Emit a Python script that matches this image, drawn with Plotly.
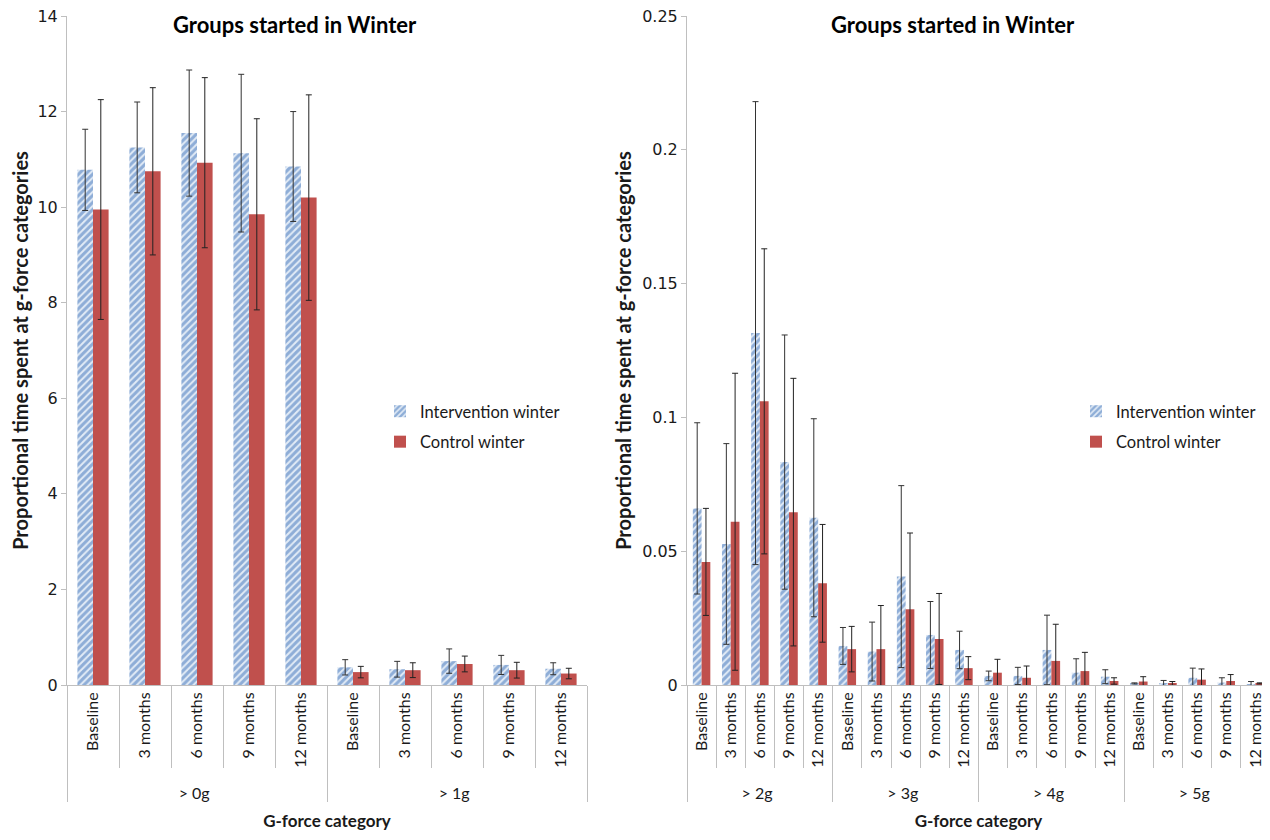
import plotly.graph_objects as go

periods = ["Baseline", "3 months", "6 months", "9 months", "12 months"]
groups_left = ["> 0g", "> 1g"]
groups_right = ["> 2g", "> 3g", "> 4g", "> 5g"]
series_names = ["Intervention winter", "Control winter"]
chart_title = "Groups started in Winter"
y_title = "Proportional time spent at g-force categories"
x_title = "G-force category"

int_left = [10.78, 11.25, 11.55, 11.13, 10.85, 0.37, 0.33, 0.50, 0.42, 0.34]
int_left_err = [0.85, 0.95, 1.32, 1.65, 1.15, 0.16, 0.165, 0.255, 0.20, 0.125]
ctl_left = [9.95, 10.75, 10.93, 9.85, 10.20, 0.27, 0.31, 0.44, 0.31, 0.24]
ctl_left_err = [2.30, 1.75, 1.78, 2.00, 2.15, 0.12, 0.155, 0.165, 0.165, 0.11]

int_right = [0.066, 0.0527, 0.1315, 0.0833, 0.0625,
             0.0146, 0.0125, 0.0405, 0.0187, 0.0131,
             0.0034, 0.0034, 0.0131, 0.0046, 0.0031,
             0.0006, 0.0007, 0.0027, 0.0009, 0.0001]
int_right_err = [0.032, 0.0375, 0.0865, 0.0475, 0.037,
                 0.0069, 0.011, 0.034, 0.0125, 0.007,
                 0.0018, 0.0032, 0.013, 0.0052, 0.0026,
                 0.0002, 0.001, 0.0036, 0.0018, 0.0012]
ctl_right = [0.046, 0.061, 0.106, 0.0646, 0.038,
             0.0134, 0.0134, 0.0283, 0.0172, 0.0063,
             0.0046, 0.0027, 0.009, 0.0052, 0.0015,
             0.0013, 0.0006, 0.0020, 0.0015, 0.0006]
ctl_right_err = [0.020, 0.0555, 0.057, 0.050, 0.022,
                 0.0085, 0.0163, 0.0285, 0.017, 0.0043,
                 0.005, 0.0044, 0.0137, 0.007, 0.0012,
                 0.0018, 0.0007, 0.004, 0.0024, 0.0002]

BLUE = "#3A70B8"
BLUE_BG = "#E2EBF6"
RED = "#C0504D"
TXT = "#1a1a1a"
GRID = "#BFBFBF"
TITLE_FONT = "Lato"
TICK_FONT = "DejaVu Sans"

# the page body adds an 8px offset; the figure is sized to the visible area
OFF = 8
W, H = 1270 - OFF, 840 - OFF


def px_x(sx):
    return (sx - OFF) / W


def px_y(sy):
    return 1 - (sy - OFF) / H


def mc(groups):
    return [[g for g in groups for _ in periods], [p for _ in groups for p in periods]]


xl = mc(groups_left)
xr = mc(groups_right)

fig = go.Figure()


def add_pair(x, vi, ei, vc, ec, xa, ya, legend):
    fig.add_trace(go.Bar(
        x=x, y=vi, name=series_names[0], xaxis=xa, yaxis=ya, legend=legend,
        legendgroup=legend + "a",
        marker=dict(color=BLUE_BG, line=dict(width=0),
                    pattern=dict(shape="/", fgcolor=BLUE, bgcolor=BLUE_BG,
                                 size=5, solidity=0.6, fillmode="overlay")),
        error_y=dict(type="data", array=ei, visible=True, color="#333333",
                     thickness=1, width=3),
    ))
    fig.add_trace(go.Bar(
        x=x, y=vc, name=series_names[1], xaxis=xa, yaxis=ya, legend=legend,
        legendgroup=legend + "b",
        marker=dict(color=RED, line=dict(width=0)),
        error_y=dict(type="data", array=ec, visible=True, color="#222222",
                     thickness=1, width=3),
    ))


add_pair(xl, int_left, int_left_err, ctl_left, ctl_left_err, "x", "y", "legend")
add_pair(xr, int_right, int_right_err, ctl_right, ctl_right_err, "x2", "y2", "legend2")

y0 = px_y(685)
y1 = px_y(16)

xaxis_common = dict(
    type="multicategory", showline=True, linecolor=GRID, linewidth=1,
    ticks="outside", tickson="boundaries", ticklen=82, tickcolor=GRID,
    showdividers=True, dividercolor=GRID, dividerwidth=1,
    tickangle=-90, tickfont=dict(family=TITLE_FONT, size=16, color=TXT),
    showgrid=False, zeroline=False, automargin=False,
    title=dict(text="<b>" + x_title + "</b>", font=dict(family=TITLE_FONT, size=17, color=TXT),
               standoff=14),
)
yaxis_common = dict(
    showline=True, linecolor=GRID, linewidth=1, ticks="outside", ticklen=5,
    tickcolor=GRID, showgrid=False, zeroline=False, automargin=False,
    ticklabeloverflow="allow",
    tickfont=dict(family=TICK_FONT, size=16, color=TXT),
    title=dict(text="<b>" + y_title + "</b>", font=dict(family=TITLE_FONT, size=20, color=TXT),
               standoff=5),
)

legend_common = dict(xanchor="left", yanchor="top",
                     font=dict(family=TITLE_FONT, size=16.5, color=TXT),
                     traceorder="grouped", tracegroupgap=6, bgcolor="rgba(0,0,0,0)")

fig.update_layout(
    width=W, height=H, margin=dict(l=0, r=0, t=0, b=0),
    paper_bgcolor="white", plot_bgcolor="white",
    barmode="group", bargap=0.4, bargroupgap=0,
    xaxis=dict(domain=[px_x(67), px_x(587)], anchor="y", **xaxis_common),
    yaxis=dict(domain=[y0, y1], anchor="x", range=[0, 14], dtick=2, **yaxis_common),
    xaxis2=dict(domain=[px_x(687), 1.0], anchor="y2", **xaxis_common),
    yaxis2=dict(domain=[y0, y1], anchor="x2", range=[0, 0.25], dtick=0.05, **yaxis_common),
    legend=dict(x=px_x(380), y=px_y(394), **legend_common),
    legend2=dict(x=px_x(1076), y=px_y(394), **legend_common),
    annotations=[
        dict(text="<b>" + chart_title + "</b>", x=px_x(295), y=px_y(25), xref="paper", yref="paper",
             xanchor="center", yanchor="middle",
             showarrow=False, font=dict(family=TITLE_FONT, size=22, color="black")),
        dict(text="<b>" + chart_title + "</b>", x=px_x(953), y=px_y(25), xref="paper", yref="paper",
             xanchor="center", yanchor="middle",
             showarrow=False, font=dict(family=TITLE_FONT, size=22, color="black")),
    ],
)

fig.write_html("out.html")
